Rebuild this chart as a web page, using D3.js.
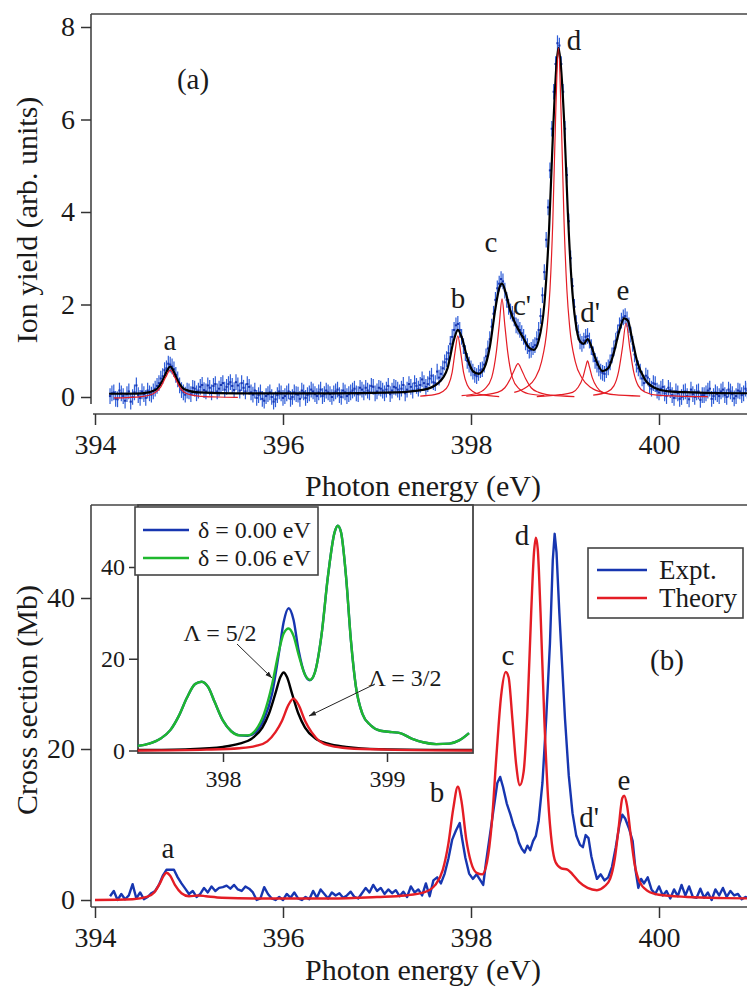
<!DOCTYPE html>
<html>
<head>
<meta charset="utf-8">
<title>Ion yield and cross section</title>
<style>
  body { margin: 0; background: #fff; }
  svg { display: block; font-family: 'Liberation Serif', 'Times New Roman', serif; }
  text { font-family: 'Liberation Serif', 'Times New Roman', serif; fill: #1a1a1a; }
  .tick text { font-size: 28px; }
  .tick line { stroke: #333; stroke-width: 1.5px; }
  .frame { stroke: #444; stroke-width: 1.6px; fill: none; }
  .inset .tick text { font-size: 24px; }
</style>
</head>
<body>
<svg width="747" height="988"></svg>
<script src="https://d3js.org/d3.v7.min.js"></script>
<script>
// ---------- panel (a): ion yield, blue points with error bars ----------
const ionYield = [
  [394.16,0.02],[394.20,0.10],[394.24,-0.05],[394.28,0.08],[394.32,-0.08],[394.36,0.12],[394.40,0.00],[394.44,0.25],
  [394.48,-0.02],[394.52,0.06],[394.56,0.14],[394.60,0.05],[394.64,0.18],[394.68,0.30],[394.72,0.45],[394.76,0.62],
  [394.80,0.70],[394.84,0.60],[394.88,0.38],[394.92,0.15],[394.96,0.05],[395.00,0.12],[395.04,0.20],[395.08,0.08],
  [395.12,0.22],[395.16,0.15],[395.20,0.25],[395.24,0.10],[395.28,0.28],[395.32,0.18],[395.36,0.30],[395.40,0.22],
  [395.44,0.32],[395.48,0.15],[395.52,0.25],[395.56,0.30],[395.60,0.12],[395.64,0.22],[395.68,0.05],[395.72,-0.02],
  [395.76,0.10],[395.80,-0.08],[395.84,0.06],[395.88,0.00],[395.92,-0.05],[395.96,0.12],[396.00,-0.02],[396.04,0.08],
  [396.08,-0.04],[396.12,0.10],[396.16,0.05],[396.20,0.14],[396.24,-0.02],[396.28,0.08],[396.32,0.12],[396.36,0.02],
  [396.40,0.16],[396.44,0.06],[396.48,0.10],[396.52,0.00],[396.56,0.12],[396.60,0.04],[396.64,0.14],[396.68,0.02],
  [396.72,0.10],[396.76,0.18],[396.80,0.06],[396.84,0.16],[396.88,0.20],[396.92,0.10],[396.96,0.22],[397.00,0.12],
  [397.04,0.18],[397.08,0.08],[397.12,0.24],[397.16,0.14],[397.20,0.20],[397.24,0.10],[397.28,0.26],[397.32,0.16],
  [397.36,0.22],[397.40,0.30],[397.44,0.18],[397.48,0.38],[397.52,0.22],[397.56,0.40],[397.60,0.32],[397.64,0.55],
  [397.68,0.50],[397.72,0.75],[397.76,0.95],[397.80,1.30],[397.84,1.55],[397.88,1.45],[397.92,1.10],[397.96,0.78],
  [398.00,0.62],[398.04,0.48],[398.08,0.52],[398.12,0.60],[398.16,0.88],[398.20,1.25],[398.24,1.80],[398.28,2.35],
  [398.32,2.55],[398.36,2.30],[398.40,1.95],[398.44,1.80],[398.48,1.55],[398.52,1.45],[398.56,1.30],[398.60,1.10],
  [398.64,1.02],[398.68,1.12],[398.72,1.45],[398.76,2.20],[398.80,3.40],[398.84,4.90],[398.88,6.60],[398.92,7.65],
  [398.96,7.20],[399.00,5.80],[399.04,3.80],[399.08,2.40],[399.12,1.60],[399.16,1.20],[399.20,1.22],[399.24,1.32],
  [399.28,1.08],[399.32,0.78],[399.36,0.62],[399.40,0.52],[399.44,0.58],[399.48,0.75],[399.52,1.05],[399.56,1.40],
  [399.60,1.65],[399.64,1.75],[399.68,1.55],[399.72,1.15],[399.76,0.70],[399.80,0.55],[399.84,0.30],[399.88,0.42],
  [399.92,0.18],[399.96,0.28],[400.00,0.10],[400.04,0.22],[400.08,0.02],[400.12,0.15],[400.16,-0.02],[400.20,0.08],
  [400.24,0.00],[400.28,0.12],[400.32,-0.05],[400.36,0.06],[400.40,0.10],[400.44,-0.06],[400.48,0.04],[400.52,0.14],
  [400.56,-0.04],[400.60,0.10],[400.64,0.02],[400.68,0.16],[400.72,0.00],[400.76,0.12],[400.80,-0.03],[400.84,0.14],
  [400.88,0.04],[400.92,0.18],[400.96,0.02],[401.00,0.10]
];
// points lying between the ones above
const ionYieldMid = [
  [394.18,0.08],[394.22,-0.04],[394.26,0.14],[394.30,0.02],[394.34,0.06],[394.38,-0.10],[394.42,0.10],[394.46,0.04],
  [394.50,0.12],[394.54,-0.02],[394.58,0.08],[394.62,0.12],[394.66,0.24],[394.70,0.40],[394.74,0.58],[394.78,0.72],
  [394.82,0.66],[394.86,0.48],[394.90,0.25],[394.94,0.10],[394.98,0.14],[395.02,0.06],[395.06,0.18],[395.10,0.14],
  [395.14,0.26],[395.18,0.12],[395.22,0.20],[395.26,0.24],[395.30,0.12],[395.34,0.26],[395.38,0.16],[395.42,0.28],
  [395.46,0.24],[395.50,0.32],[395.54,0.14],[395.58,0.20],[395.62,0.28],[395.66,0.10],[395.70,0.14],[395.74,0.04],
  [395.78,-0.04],[395.82,0.02],[395.86,0.10],[395.90,-0.10],[395.94,0.04],[395.98,0.08],[396.02,0.02],[396.06,0.12],
  [396.10,0.00],[396.14,0.06],[396.18,-0.04],[396.22,0.10],[396.26,0.04],[396.30,0.16],[396.34,0.06],[396.38,0.10],
  [396.42,0.02],[396.46,0.14],[396.50,0.06],[396.54,0.08],[396.58,0.16],[396.62,0.00],[396.66,0.10],[396.70,0.06],
  [396.74,0.14],[396.78,0.08],[396.82,0.20],[396.86,0.10],[396.90,0.14],[396.94,0.24],[396.98,0.08],[397.02,0.20],
  [397.06,0.14],[397.10,0.16],[397.14,0.06],[397.18,0.22],[397.22,0.16],[397.26,0.18],[397.30,0.08],[397.34,0.28],
  [397.38,0.14],[397.42,0.24],[397.46,0.26],[397.50,0.30],[397.54,0.28],[397.58,0.46],[397.62,0.30],[397.66,0.42],
  [397.70,0.62],[397.74,0.82],[397.78,1.15],[397.82,1.45],[397.86,1.58],[397.90,1.30],[397.94,0.95],[397.98,0.70],
  [398.02,0.55],[398.06,0.45],[398.10,0.58],[398.14,0.70],[398.18,1.05],[398.22,1.52],[398.26,2.10],[398.30,2.45],
  [398.34,2.50],[398.38,2.10],[398.42,1.85],[398.46,1.70],[398.50,1.52],[398.54,1.38],[398.58,1.18],[398.62,1.00],
  [398.66,1.08],[398.70,1.25],[398.74,1.75],[398.78,2.70],[398.82,4.10],[398.86,5.80],[398.90,7.20],[398.94,7.60],
  [398.98,6.60],[399.02,4.80],[399.06,3.00],[399.10,1.95],[399.14,1.40],[399.18,1.15],[399.22,1.30],[399.26,1.22],
  [399.30,0.92],[399.34,0.70],[399.38,0.55],[399.42,0.50],[399.46,0.64],[399.50,0.90],[399.54,1.22],[399.58,1.55],
  [399.62,1.72],[399.66,1.68],[399.70,1.35],[399.74,0.92],[399.78,0.62],[399.82,0.40],[399.86,0.46],[399.90,0.24],
  [399.94,0.30],[399.98,0.14],[400.02,0.18],[400.06,0.08],[400.10,0.20],[400.14,0.04],[400.18,0.12],[400.22,-0.04],
  [400.26,0.10],[400.30,0.02],[400.34,0.16],[400.38,0.00],[400.42,0.12],[400.46,0.04],[400.50,0.08],[400.54,0.18],
  [400.58,0.02],[400.62,0.06],[400.66,0.12],[400.70,0.04],[400.74,0.16],[400.78,0.06],[400.82,0.02],[400.86,0.12],
  [400.90,0.08],[400.94,0.14],[400.98,0.06]
];
const ionYieldErr = 0.17;

// total fit (black)
const fitTotal = [
  [394.15,0.07],[394.50,0.08],[394.65,0.16],[394.72,0.36],[394.77,0.58],[394.80,0.66],[394.83,0.58],[394.88,0.35],
  [394.95,0.17],[395.10,0.10],[395.50,0.08],[396.50,0.08],[397.20,0.10],[397.50,0.16],[397.65,0.30],[397.75,0.62],
  [397.82,1.25],[397.86,1.45],[397.90,1.30],[397.96,0.85],[398.02,0.56],[398.08,0.50],[398.14,0.62],[398.20,1.08],
  [398.26,1.92],[398.30,2.35],[398.33,2.45],[398.37,2.25],[398.42,1.85],[398.48,1.55],[398.55,1.30],[398.62,1.06],
  [398.67,1.02],[398.72,1.22],[398.78,2.00],[398.83,3.60],[398.87,5.60],[398.91,7.20],[398.93,7.55],[398.95,7.30],
  [398.99,6.00],[399.03,4.00],[399.07,2.50],[399.11,1.65],[399.16,1.20],[399.20,1.15],[399.24,1.25],[399.28,1.10],
  [399.33,0.80],[399.40,0.56],[399.46,0.62],[399.52,0.96],[399.58,1.45],[399.63,1.70],[399.67,1.65],[399.71,1.30],
  [399.77,0.75],[399.85,0.38],[399.95,0.20],[400.10,0.12],[400.50,0.09],[401.00,0.08]
];

// single-peak components (red)
const compA = [[394.20,-0.02],[394.50,0.01],[394.62,0.07],[394.70,0.22],[394.75,0.42],[394.80,0.58],[394.85,0.42],
  [394.90,0.22],[394.98,0.07],[395.10,0.02],[395.30,0.0],[395.52,-0.01]];
const compB = [[397.46,0.02],[397.61,0.05],[397.70,0.12],[397.76,0.26],[397.80,0.54],[397.83,0.97],[397.86,1.32],
  [397.89,0.97],[397.92,0.54],[397.96,0.26],[398.02,0.12],[398.11,0.05],[398.30,0.01]];
const compC = [[397.90,0.03],[398.05,0.07],[398.15,0.18],[398.22,0.42],[398.27,0.98],[398.30,1.55],[398.33,2.12],
  [398.36,1.55],[398.39,0.98],[398.44,0.42],[398.51,0.18],[398.61,0.07],[398.78,0.03]];
const compC2 = [[397.95,0.02],[398.15,0.05],[398.28,0.10],[398.36,0.20],[398.42,0.40],[398.46,0.58],[398.50,0.72],
  [398.54,0.58],[398.58,0.40],[398.64,0.20],[398.72,0.10],[398.85,0.04],[399.10,0.01]];
const compD = [[398.46,0.10],[398.58,0.20],[398.68,0.40],[398.75,0.76],[398.81,1.51],[398.84,2.32],[398.87,3.78],
  [398.90,6.04],[398.93,7.55],[398.96,6.04],[398.99,3.78],[399.02,2.32],[399.05,1.51],[399.11,0.76],[399.18,0.41],
  [399.28,0.20],[399.40,0.10]];
const compD2 = [[398.70,0.01],[398.95,0.05],[399.08,0.10],[399.14,0.21],[399.19,0.42],[399.22,0.65],[399.24,0.78],
  [399.26,0.65],[399.29,0.42],[399.34,0.21],[399.40,0.10],[399.52,0.05],[399.80,0.02]];
const compE = [[399.30,0.04],[399.45,0.11],[399.52,0.24],[399.57,0.55],[399.61,1.05],[399.65,1.60],[399.69,1.05],
  [399.73,0.55],[399.78,0.24],[399.85,0.11],[399.98,0.04],[400.20,0.02],[400.52,0.01]];
const componentsA = [compA, compB, compC, compC2, compD, compD2, compE];

// ---------- panel (b): cross section ----------
const expt = [
  [394.16,0.5],[394.20,1.2],[394.24,0.0],[394.28,0.8],[394.32,0.1],[394.36,0.6],[394.40,2.1],[394.44,0.2],[394.48,1.0],
  [394.52,0.1],[394.56,0.4],[394.60,0.9],[394.64,1.2],[394.68,2.0],[394.72,3.2],[394.76,4.0],[394.80,4.0],[394.84,4.0],
  [394.88,3.0],[394.92,2.2],[394.96,1.5],[395.00,0.8],[395.04,1.2],[395.08,0.4],[395.12,0.8],[395.16,1.6],[395.20,1.0],
  [395.24,1.8],[395.28,1.2],[395.32,1.6],[395.36,1.7],[395.40,1.9],[395.44,1.5],[395.48,2.0],[395.52,1.4],[395.56,1.2],
  [395.60,1.8],[395.64,1.5],[395.68,1.0],[395.72,0.0],[395.76,0.2],[395.80,1.7],[395.84,0.8],[395.88,0.2],[395.92,0.0],
  [395.96,0.4],[396.00,0.0],[396.04,0.8],[396.08,0.3],[396.12,1.0],[396.16,0.2],[396.20,0.0],[396.24,0.4],[396.28,0.1],
  [396.32,1.2],[396.36,0.3],[396.40,1.4],[396.44,0.8],[396.48,0.2],[396.52,1.0],[396.56,0.6],[396.60,0.9],[396.64,0.3],
  [396.68,0.6],[396.72,1.1],[396.76,0.4],[396.80,0.2],[396.84,0.9],[396.88,1.6],[396.92,1.0],[396.96,2.0],[397.00,1.2],
  [397.04,1.6],[397.08,0.8],[397.12,1.4],[397.16,0.9],[397.20,1.3],[397.24,0.5],[397.28,1.1],[397.32,0.4],[397.36,1.8],
  [397.40,1.0],[397.44,1.4],[397.48,0.6],[397.52,2.2],[397.56,0.5],[397.60,2.6],[397.64,3.0],[397.68,2.2],[397.72,3.5],
  [397.76,5.5],[397.80,8.0],[397.84,9.2],[397.88,10.2],[397.90,8.5],[397.94,5.6],[397.98,3.5],[398.02,2.8],[398.06,3.4],
  [398.10,2.6],[398.13,2.0],[398.16,5.0],[398.20,8.5],[398.24,12.0],[398.28,15.5],[398.31,16.3],[398.34,15.0],
  [398.38,12.8],[398.42,11.3],[398.45,10.0],[398.48,9.0],[398.51,7.6],[398.54,6.8],[398.57,6.3],[398.60,7.2],
  [398.63,6.6],[398.66,7.8],[398.69,8.5],[398.72,10.5],[398.76,15.5],[398.80,24.0],[398.84,34.0],[398.87,45.0],
  [398.89,48.5],[398.91,46.0],[398.94,38.0],[398.97,31.0],[399.00,24.0],[399.04,16.5],[399.08,11.5],[399.12,8.5],
  [399.16,7.3],[399.19,7.0],[399.22,8.6],[399.25,8.2],[399.28,5.8],[399.31,4.2],[399.34,2.8],[399.38,3.4],[399.42,2.6],
  [399.46,3.0],[399.50,4.4],[399.54,7.0],[399.58,10.0],[399.61,11.3],[399.64,10.8],[399.68,9.5],[399.72,7.8],
  [399.75,4.0],[399.78,1.6],[399.81,2.8],[399.84,2.2],[399.88,3.0],[399.92,1.4],[399.96,0.8],[400.00,1.8],[400.04,0.6],
  [400.08,1.2],[400.12,0.2],[400.16,1.4],[400.20,0.5],[400.24,2.0],[400.28,0.6],[400.32,1.8],[400.36,0.4],[400.40,0.3],
  [400.44,1.5],[400.48,0.3],[400.52,1.0],[400.56,0.0],[400.60,1.4],[400.64,0.6],[400.68,1.6],[400.72,0.4],[400.76,1.2],
  [400.80,0.6],[400.84,0.8],[400.88,0.1],[400.92,0.4],[400.96,0.2],[401.00,0.3]
];
const theory = [
  [394.00,0.0],[394.40,0.1],[394.55,0.4],[394.63,1.0],[394.69,2.2],[394.73,3.2],[394.76,3.6],[394.80,3.2],[394.85,2.0],
  [394.92,0.9],[395.00,0.5],[395.10,0.6],[395.18,0.5],[395.35,0.3],[395.70,0.2],[396.50,0.2],[397.00,0.4],[397.30,0.6],
  [397.50,1.0],[397.62,2.0],[397.70,4.0],[397.76,7.5],[397.81,12.0],[397.86,15.0],[397.90,13.0],[397.95,8.0],
  [398.00,5.0],[398.06,3.6],[398.12,3.4],[398.17,5.0],[398.22,10.0],[398.27,19.0],[398.32,27.0],[398.37,30.2],
  [398.40,29.5],[398.44,24.0],[398.48,18.0],[398.52,15.2],[398.56,17.0],[398.60,25.0],[398.64,38.0],[398.67,46.0],
  [398.69,48.0],[398.71,46.5],[398.74,38.0],[398.78,24.0],[398.82,13.5],[398.86,7.5],[398.90,5.0],[398.96,4.2],
  [399.03,4.0],[399.08,3.4],[399.15,2.4],[399.24,1.6],[399.34,1.3],[399.42,1.8],[399.48,2.8],[399.53,5.5],[399.57,9.5],
  [399.61,13.5],[399.63,13.8],[399.66,12.5],[399.70,8.5],[399.74,4.8],[399.79,2.5],[399.88,1.2],[400.00,0.7],
  [400.30,0.4],[400.70,0.25],[401.00,0.2]
];

// ---------- inset ----------
const delta006 = [
  [397.48,1.0],[397.55,1.5],[397.62,2.6],[397.68,4.5],[397.73,7.5],[397.78,11.5],[397.83,14.5],[397.87,15.0],
  [397.91,13.8],[397.95,10.5],[398.00,6.5],[398.05,4.2],[398.10,3.3],[398.15,3.3],[398.20,4.5],[398.25,8.0],
  [398.30,14.5],[398.34,21.5],[398.37,25.5],[398.40,26.6],[398.43,25.0],[398.46,21.0],[398.50,16.5],[398.53,15.4],
  [398.56,17.0],[398.60,25.0],[398.64,38.0],[398.68,47.5],[398.70,49.0],[398.72,47.5],[398.75,38.0],[398.78,24.0],
  [398.81,14.0],[398.85,8.0],[398.90,5.5],[398.96,4.3],[399.03,4.0],[399.08,3.8],[399.15,2.6],[399.22,1.8],
  [399.30,1.4],[399.38,1.5],[399.44,2.2],[399.50,3.8]
];
const delta000 = [
  [397.48,1.0],[397.55,1.5],[397.62,2.6],[397.68,4.5],[397.73,7.5],[397.78,11.5],[397.83,14.5],[397.87,15.0],
  [397.91,13.8],[397.95,10.5],[398.00,6.5],[398.05,4.2],[398.10,3.3],[398.15,3.2],[398.20,4.0],[398.25,6.8],
  [398.30,12.5],[398.34,21.0],[398.37,28.0],[398.40,31.0],[398.43,28.5],[398.46,22.0],[398.50,16.5],[398.53,15.3],
  [398.56,17.0],[398.60,25.0],[398.64,38.0],[398.68,47.5],[398.70,49.0],[398.72,47.5],[398.75,38.0],[398.78,24.0],
  [398.81,14.0],[398.85,8.0],[398.90,5.5],[398.96,4.3],[399.03,4.0],[399.08,3.8],[399.15,2.6],[399.22,1.8],
  [399.30,1.4],[399.38,1.5],[399.44,2.2],[399.50,3.8]
];
const lambda52 = [
  [397.48,0.1],[397.80,0.3],[398.00,0.8],[398.10,1.5],[398.18,2.7],[398.24,5.0],[398.28,8.0],[398.32,12.5],
  [398.35,16.0],[398.37,17.0],[398.39,16.0],[398.42,12.5],[398.46,8.0],[398.50,5.0],[398.56,2.7],[398.64,1.5],
  [398.75,0.8],[398.95,0.3],[399.52,0.1]
];
const lambda32 = [
  [397.48,0.0],[397.90,0.2],[398.10,0.5],[398.20,1.0],[398.27,2.0],[398.32,4.0],[398.36,6.5],[398.40,10.0],
  [398.43,11.3],[398.46,10.0],[398.50,6.5],[398.54,4.0],[398.59,2.0],[398.66,1.0],[398.76,0.5],[399.00,0.2],
  [399.52,0.0]
];

const xTicksMain = [394, 396, 398, 400];
const yTicksA = [0, 2, 4, 6, 8];
const yTicksB = [0, 20, 40];
const xTicksInset = [398, 399];
const yTicksInset = [0, 20, 40];

const BLUE = "#1736b0", ERRBLUE = "#2f5ed8", RED = "#e41d25", GREEN = "#1fb82e";
const FS = "29px", FT = "30px";

let svg = d3.select("svg");

let x = d3.scaleLinear().domain([394, 401]).range([95, 753]);
let yA = d3.scaleLinear().domain([0, 8]).range([397, 27]);
let yB = d3.scaleLinear().domain([0, 40]).range([900, 598]);
let xIn = d3.scaleLinear().domain([398, 399]).range([223, 387]);
let yIn = d3.scaleLinear().domain([0, 40]).range([750.5, 567]);

function axisY(g, scale, ticks, size, pad) {
  g.call(d3.axisLeft(scale).tickValues(ticks).tickSize(size).tickPadding(pad).tickFormat(d3.format("d")));
  g.attr("font-family", null).attr("font-size", null);
  g.select(".domain").remove();
}
function axisX(g, scale, ticks, size, pad) {
  g.call(d3.axisBottom(scale).tickValues(ticks).tickSize(size).tickPadding(pad).tickFormat(d3.format("d")));
  g.attr("font-family", null).attr("font-size", null);
  g.select(".domain").remove();
}

// ===== panel (a) =====
let pa = svg.append("g");
pa.append("line").attr("class", "frame").attr("x1", 91).attr("x2", 747).attr("y1", 14).attr("y2", 14);
pa.append("line").attr("class", "frame").attr("x1", 91).attr("x2", 91).attr("y1", 14).attr("y2", 404);
pa.append("line").attr("class", "frame").attr("x1", 93).attr("x2", 747).attr("y1", 414).attr("y2", 414);
pa.append("g").attr("transform", "translate(91,0)").call(axisY, yA, yTicksA, 10, 6);
pa.append("g").attr("transform", "translate(0,414)").call(axisX, x, xTicksMain, 11, 9);

let points = ionYield.concat(ionYieldMid).sort((a, b) => a[0] - b[0]);
pa.append("g").selectAll("line").data(points).join("line")
  .attr("x1", d => x(d[0])).attr("x2", d => x(d[0]))
  .attr("y1", d => yA(d[1] - ionYieldErr)).attr("y2", d => yA(d[1] + ionYieldErr))
  .attr("stroke", ERRBLUE).attr("stroke-width", 1.2);
pa.append("g").selectAll("rect").data(points).join("rect")
  .attr("x", d => x(d[0]) - 1.1).attr("y", d => yA(d[1]) - 1)
  .attr("width", 2.2).attr("height", 2).attr("fill", BLUE);

let lineA = d3.line().x(d => x(d[0])).y(d => yA(d[1])).curve(d3.curveMonotoneX);
pa.append("path").datum(fitTotal).attr("d", lineA)
  .attr("fill", "none").attr("stroke", "#000").attr("stroke-width", 2.2);
pa.append("g").selectAll("path").data(componentsA).join("path").attr("d", lineA)
  .attr("fill", "none").attr("stroke", RED).attr("stroke-width", 1.2);

pa.append("text").attr("x", 193).attr("y", 89).attr("text-anchor", "middle")
  .style("font-size", FS).text("(a)");
const labelsA = [["a", 170, 350], ["b", 458, 308], ["c", 491, 252], ["c'", 522, 315], ["d", 574, 50], ["d'", 590, 322], ["e", 623, 300]];
pa.append("g").selectAll("text").data(labelsA).join("text")
  .attr("x", d => d[1]).attr("y", d => d[2]).attr("text-anchor", "middle")
  .style("font-size", FS).text(d => d[0]);

pa.append("text").attr("transform", "translate(37,220) rotate(-90)").attr("text-anchor", "middle")
  .style("font-size", FT).text("Ion yield (arb. units)");
pa.append("text").attr("x", 423).attr("y", 496).attr("text-anchor", "middle")
  .style("font-size", FT).text("Photon energy (eV)");

// ===== panel (b) =====
let pb = svg.append("g");
pb.append("line").attr("class", "frame").attr("x1", 91).attr("x2", 747).attr("y1", 505).attr("y2", 505);
pb.append("line").attr("class", "frame").attr("x1", 91).attr("x2", 91).attr("y1", 505).attr("y2", 907);
pb.append("line").attr("class", "frame").attr("x1", 91).attr("x2", 747).attr("y1", 907).attr("y2", 907);
pb.append("g").attr("transform", "translate(91,0)").call(axisY, yB, yTicksB, 10, 6);
pb.append("g").attr("transform", "translate(0,907)").call(axisX, x, xTicksMain, 11, 9);

let lineB = d3.line().x(d => x(d[0])).y(d => yB(d[1]));
pb.append("path").datum(expt).attr("d", lineB)
  .attr("fill", "none").attr("stroke", BLUE).attr("stroke-width", 2.4).attr("stroke-linejoin", "round");
pb.append("path").datum(theory).attr("d", lineB.curve(d3.curveMonotoneX))
  .attr("fill", "none").attr("stroke", RED).attr("stroke-width", 2.4);

const labelsB = [["a", 168, 858], ["b", 437, 802], ["c", 508, 665], ["d", 522, 545], ["d'", 589, 827], ["e", 624, 790]];
pb.append("g").selectAll("text").data(labelsB).join("text")
  .attr("x", d => d[1]).attr("y", d => d[2]).attr("text-anchor", "middle")
  .style("font-size", FS).text(d => d[0]);
pb.append("text").attr("x", 667).attr("y", 670).attr("text-anchor", "middle")
  .style("font-size", FS).text("(b)");

// legend (b)
let legB = pb.append("g");
legB.append("rect").attr("x", 588).attr("y", 548).attr("width", 155).attr("height", 70)
  .attr("fill", "#fff").attr("stroke", "#444").attr("stroke-width", 1.6);
[["Expt.", BLUE], ["Theory", RED]].forEach((e, i) => {
  legB.append("line").attr("x1", 597).attr("x2", 647).attr("y1", 570 + i * 28).attr("y2", 570 + i * 28)
    .attr("stroke", e[1]).attr("stroke-width", 2.4);
  legB.append("text").attr("x", 659).attr("y", 579 + i * 28).style("font-size", "27px").text(e[0]);
});

pb.append("text").attr("transform", "translate(37,700) rotate(-90)").attr("text-anchor", "middle")
  .style("font-size", FT).text("Cross section (Mb)");
pb.append("text").attr("x", 423).attr("y", 980).attr("text-anchor", "middle")
  .style("font-size", FT).text("Photon energy (eV)");

// ===== inset =====
let ins = svg.append("g").attr("class", "inset");
ins.append("rect").attr("x", 138).attr("y", 505).attr("width", 335).attr("height", 248)
  .attr("fill", "#fff").attr("stroke", "#444").attr("stroke-width", 1.8);
ins.append("g").attr("transform", "translate(138,0)").call(axisY, yIn, yTicksInset, 9, 4);
ins.append("g").attr("transform", "translate(0,753)").call(axisX, xIn, xTicksInset, 9, 8);

let lineIn = d3.line().x(d => xIn(d[0])).y(d => yIn(d[1])).curve(d3.curveMonotoneX);
[[delta000, BLUE], [delta006, GREEN], [lambda52, "#000"], [lambda32, RED]].forEach(s => {
  ins.append("path").datum(s[0]).attr("d", lineIn)
    .attr("fill", "none").attr("stroke", s[1]).attr("stroke-width", 2.4);
});

svg.append("defs").append("marker").attr("id", "arr").attr("viewBox", "0 0 10 10")
  .attr("refX", 10).attr("refY", 5).attr("markerWidth", 7).attr("markerHeight", 7)
  .attr("orient", "auto").append("path").attr("d", "M0,1.5 L10,5 L0,8.5 z").attr("fill", "#222");

ins.append("text").attr("x", 220).attr("y", 641).attr("text-anchor", "middle")
  .style("font-size", "24px").text("\u039B = 5/2");
ins.append("line").attr("x1", 237).attr("y1", 644).attr("x2", 272).attr("y2", 678)
  .attr("stroke", "#222").attr("stroke-width", 1).attr("marker-end", "url(#arr)");
ins.append("text").attr("x", 405).attr("y", 686).attr("text-anchor", "middle")
  .style("font-size", "24px").text("\u039B = 3/2");
ins.append("line").attr("x1", 375).attr("y1", 684).attr("x2", 309).attr("y2", 716)
  .attr("stroke", "#222").attr("stroke-width", 1).attr("marker-end", "url(#arr)");

// inset legend
let legIn = ins.append("g");
legIn.append("rect").attr("x", 135).attr("y", 507).attr("width", 183).attr("height", 68)
  .attr("fill", "#fff").attr("stroke", "#444").attr("stroke-width", 1.6);
[["\u03B4 = 0.00 eV", BLUE], ["\u03B4 = 0.06 eV", GREEN]].forEach((e, i) => {
  legIn.append("line").attr("x1", 143).attr("x2", 189).attr("y1", 530 + i * 28).attr("y2", 530 + i * 28)
    .attr("stroke", e[1]).attr("stroke-width", 2.4);
  legIn.append("text").attr("x", 198).attr("y", 538 + i * 28).style("font-size", "24px").text(e[0]);
});
</script>
</body>
</html>
